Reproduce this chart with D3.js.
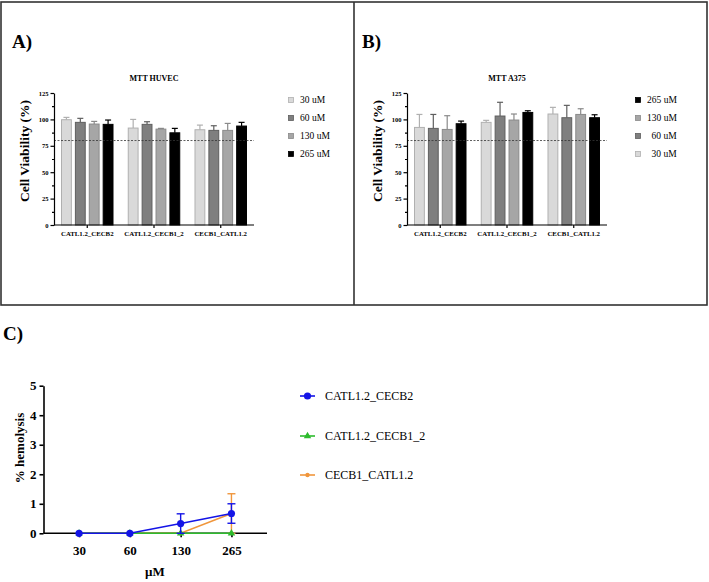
<!DOCTYPE html>
<meta charset="utf-8">
<style>
  body { margin: 0; background: #fff; }
  svg { display: block; }
  text { font-family: 'Liberation Serif', 'Times New Roman', serif; fill: #000; }
  .panel-tag { font-size: 19px; font-weight: bold; }
  .title { font-size: 8px; font-weight: bold; text-anchor: middle; }
  .ylab { font-size: 13.5px; font-weight: bold; text-anchor: middle; }
  .axis path, .axis line { stroke: #000; stroke-width: 1.2px; }
  .axis text { font-weight: bold; font-family: 'Liberation Serif', serif; }
  .leg { font-size: 9.5px; }
  .cleg { font-size: 12px; }
</style>
<script src="https://d3js.org/d3.v7.min.js"></script>
<body>
<svg width="709" height="582"></svg>
<script>
  // MTT cell viability, mean and error per group x dose
  var groups = ["CATL1.2_CECB2", "CATL1.2_CECB1_2", "CECB1_CATL1.2"];
  var doses = ["30 uM", "60 uM", "130 uM", "265 uM"];
  var huvecMean = [[99.7, 97.2, 95.6, 95.3], [91.8, 95.3, 90.8, 87.3], [90.2, 89.6, 89.6, 93.7]];
  var huvecErr  = [[2.2, 3.8, 2.5, 4.1], [8.2, 2.5, 0.7, 4.2], [4.4, 4.4, 6.6, 3.5]];
  var a375Mean  = [[92.4, 91.5, 90.5, 95.9], [97.2, 103.2, 99.4, 106.6], [105.1, 101.6, 104.7, 101.6]];
  var a375Err   = [[12.3, 13.2, 13, 2.5], [1.9, 13, 5.7, 1.6], [6.3, 11.7, 5.4, 2.8]];
  var viabTicks = [0, 25, 50, 75, 100, 125];
  var cutoff = 80;

  // hemolysis
  var conc = ["30", "60", "130", "265"];
  var hemoNames = ["CATL1.2_CECB2", "CATL1.2_CECB1_2", "CECB1_CATL1.2"];
  var hemoMean = [[0, 0, 0.33, 0.67], [0, 0, 0, 0], [0, 0, 0, 0.67]];
  var hemoErr  = [[0, 0, 0.33, 0.33], [0, 0, 0, 0], [0, 0, 0, 0.67]];
  var hemoTicks = [0, 1, 2, 3, 4, 5];

  var fills = ["#d9d9d9", "#7f7f7f", "#a6a6a6", "#000000"];
  var strokes = ["#b0b0b0", "#5f5f5f", "#8a8a8a", "#000000"];

  var svg = d3.select("svg");

  // frame round the two bar panels
  svg.append("rect").attr("x", 1).attr("y", 2).attr("width", 706).attr("height", 303)
    .attr("fill", "none").attr("stroke", "#333").attr("stroke-width", 1.6);
  svg.append("line").attr("x1", 354).attr("x2", 354).attr("y1", 2).attr("y2", 305)
    .attr("stroke", "#333").attr("stroke-width", 1.6);

  function barPanel(o) {
    var g = svg.append("g");
    var y = d3.scaleLinear().domain([0, 125]).range([225, 93]);
    var x = d3.scaleBand().domain(groups).range([o.left, o.left + 200])
      .paddingInner(0.2135).paddingOuter(0.105);
    var xi = d3.scaleBand().domain(doses).range([0, x.bandwidth()]).paddingInner(0.22);

    g.append("text").attr("class", "panel-tag").attr("x", o.tagX).attr("y", 48).text(o.tag);
    g.append("text").attr("class", "title").attr("x", o.left + 100).attr("y", 81).text(o.title);
    g.append("text").attr("class", "ylab")
      .attr("transform", "translate(" + (o.left - 25) + ",151) rotate(-90)")
      .text("Cell Viability (%)");

    var rows = [];
    groups.forEach(function(gr, i) {
      doses.forEach(function(d, j) {
        rows.push({ g: gr, d: d, j: j, v: o.mean[i][j], e: o.err[i][j] });
      });
    });

    // error bars (upper only) behind the bars
    var eb = g.selectAll(".eb").data(rows).enter().append("g")
      .attr("stroke", function(r) { return strokes[r.j]; }).attr("stroke-width", 1.2);
    eb.append("line")
      .attr("x1", function(r) { return x(r.g) + xi(r.d) + xi.bandwidth() / 2; })
      .attr("x2", function(r) { return x(r.g) + xi(r.d) + xi.bandwidth() / 2; })
      .attr("y1", function(r) { return y(r.v); })
      .attr("y2", function(r) { return y(r.v + r.e); });
    eb.append("line")
      .attr("x1", function(r) { return x(r.g) + xi(r.d) + xi.bandwidth() / 2 - 3; })
      .attr("x2", function(r) { return x(r.g) + xi(r.d) + xi.bandwidth() / 2 + 3; })
      .attr("y1", function(r) { return y(r.v + r.e); })
      .attr("y2", function(r) { return y(r.v + r.e); });

    g.selectAll(".bar").data(rows).enter().append("rect")
      .attr("x", function(r) { return x(r.g) + xi(r.d) + 0.5; })
      .attr("width", xi.bandwidth() - 1)
      .attr("y", function(r) { return y(r.v); })
      .attr("height", function(r) { return y(0) - y(r.v); })
      .attr("fill", function(r) { return fills[r.j]; })
      .attr("stroke", function(r) { return strokes[r.j]; })
      .attr("stroke-width", 1);

    // 80% cut-off
    g.append("line").attr("x1", o.left).attr("x2", o.left + 200)
      .attr("y1", y(cutoff)).attr("y2", y(cutoff))
      .attr("stroke", "#333").attr("stroke-width", 0.8).attr("stroke-dasharray", "2,1.5");

    g.append("g").attr("class", "axis").attr("transform", "translate(" + o.left + ",0)")
      .call(d3.axisLeft(y).tickValues(d3.range(12.5, 125, 25)).tickSize(2).tickFormat(""))
      .call(function(a) { a.select(".domain").remove(); });
    g.append("g").attr("class", "axis").attr("transform", "translate(" + o.left + ",0)")
      .call(d3.axisLeft(y).tickValues(viabTicks).tickSize(3.5).tickSizeOuter(0).tickPadding(2))
      .call(function(a) { a.selectAll("text").style("font-size", "6.5px"); });
    g.append("g").attr("class", "axis").attr("transform", "translate(0,225)")
      .call(d3.axisBottom(x).tickSize(3).tickSizeOuter(0).tickPadding(3))
      .call(function(a) {
        a.select(".domain").attr("d", "M" + o.left + ",0H" + (o.left + 200));
        a.selectAll("text").style("font-size", "6.8px");
      });

    // legend
    var lg = g.selectAll(".lg").data(o.legend).enter().append("g")
      .attr("transform", function(d, k) { return "translate(" + o.legX + "," + (100 + k * 18) + ")"; });
    lg.append("rect").attr("x", -2.5).attr("y", -2.5).attr("width", 5).attr("height", 5)
      .attr("fill", function(d) { return fills[doses.indexOf(d)]; })
      .attr("stroke", function(d) { return strokes[doses.indexOf(d)]; }).attr("stroke-width", 0.8);
    lg.append("text").attr("class", "leg")
      .attr("x", function(d) { return o.indent && d.length < 6 ? 13.5 : 9; })
      .attr("dy", "0.35em").text(function(d) { return d; });
  }

  barPanel({ tag: "A)", tagX: 12, title: "MTT HUVEC", left: 54, mean: huvecMean, err: huvecErr,
    legend: doses, legX: 291 });
  barPanel({ tag: "B)", tagX: 362, title: "MTT A375", left: 407, mean: a375Mean, err: a375Err,
    legend: doses.slice().reverse(), legX: 638, indent: true });

  // hemolysis panel
  var colors = ["#1414e6", "#2dbb2d", "#f0963c"];
  var hc = svg.append("g");
  var hx = d3.scalePoint().domain(conc).range([43.5, 267]).padding(0.7);
  var hy = d3.scaleLinear().domain([0, 5]).range([533.3, 385.7]);

  hc.append("text").attr("class", "panel-tag").attr("x", 3).attr("y", 340).text("C)");

  hc.append("g").attr("class", "axis").attr("transform", "translate(43.5,0)")
    .call(d3.axisLeft(hy).tickValues(hemoTicks).tickFormat(d3.format("d")).tickSize(4).tickSizeOuter(0).tickPadding(3))
    .call(function(a) { a.selectAll("text").style("font-size", "13px"); a.selectAll("path,line").style("stroke-width", "1.6px"); });
  hc.append("g").attr("class", "axis").attr("transform", "translate(0,533.3)")
    .call(d3.axisBottom(hx).tickSize(4).tickSizeOuter(0).tickPadding(8))
    .call(function(a) {
      a.select(".domain").attr("d", "M43.5,0H267");
      a.selectAll("text").style("font-size", "13px");
      a.selectAll("path,line").style("stroke-width", "1.6px");
    });
  hc.append("text").attr("x", 155).attr("y", 576).attr("text-anchor", "middle")
    .style("font-size", "13px").style("font-weight", "bold").text("µM");
  hc.append("text").attr("transform", "translate(24,448) rotate(-90)").attr("text-anchor", "middle")
    .style("font-size", "13px").style("font-weight", "bold").text("% hemolysis");

  var line = d3.line().x(function(d) { return hx(d.c); }).y(function(d) { return hy(d.v); });
  var drawOrder = [2, 1, 0];
  drawOrder.forEach(function(s) {
    var pts = conc.map(function(c, i) { return { c: c, v: hemoMean[s][i], e: hemoErr[s][i] }; });
    var sg = hc.append("g").attr("stroke", colors[s]).attr("fill", colors[s]);
    sg.append("path").datum(pts).attr("d", line).attr("fill", "none").attr("stroke-width", 1.6);
    pts.filter(function(p) { return p.e > 0; }).forEach(function(p) {
      var cx = hx(p.c);
      sg.append("line").attr("x1", cx).attr("x2", cx).attr("y1", hy(p.v - p.e)).attr("y2", hy(p.v + p.e)).attr("stroke-width", 1.4);
      [p.v - p.e, p.v + p.e].forEach(function(v) {
        sg.append("line").attr("x1", cx - 4).attr("x2", cx + 4).attr("y1", hy(v)).attr("y2", hy(v)).attr("stroke-width", 1.4);
      });
    });
    pts.forEach(function(p) { marker(sg, s, hx(p.c), hy(p.v)); });
  });

  function marker(g, s, cx, cy) {
    if (s === 0) g.append("circle").attr("cx", cx).attr("cy", cy).attr("r", 3.6).attr("stroke", "none");
    else if (s === 1) g.append("path").attr("transform", "translate(" + cx + "," + cy + ")")
      .attr("d", d3.symbol(d3.symbolTriangle, 24)()).attr("stroke", "none");
    else g.append("circle").attr("cx", cx).attr("cy", cy).attr("r", 2.2).attr("stroke", "none");
  }

  // hemolysis legend
  var legY = [396, 436, 475];
  hemoNames.forEach(function(n, s) {
    var lg = hc.append("g").attr("stroke", colors[s]).attr("fill", colors[s]);
    lg.append("line").attr("x1", 300).attr("x2", 315).attr("y1", legY[s]).attr("y2", legY[s]).attr("stroke-width", 1.6);
    marker(lg, s, 307.5, legY[s]);
    hc.append("text").attr("class", "cleg").attr("x", 325).attr("y", legY[s]).attr("dy", "0.35em").text(n);
  });
</script>
</body>
